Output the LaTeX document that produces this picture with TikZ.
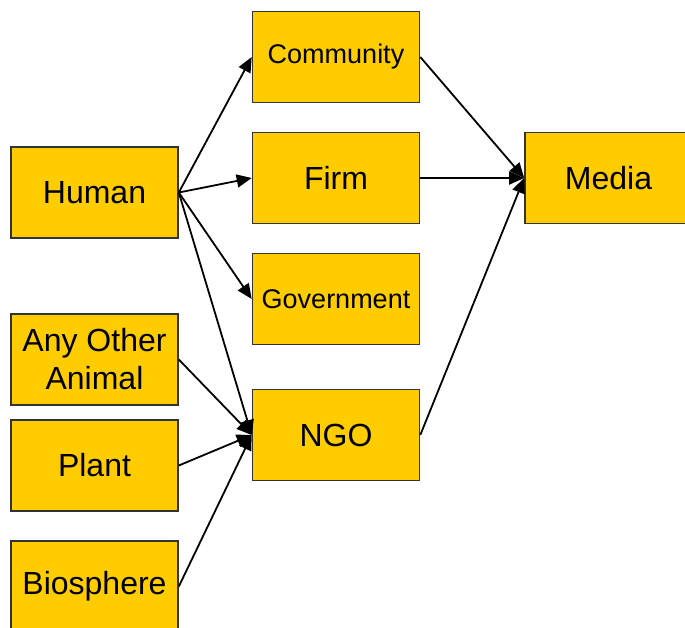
\documentclass[tikz,border=0pt]{standalone}
\usepackage{fontspec}
\setmainfont{Liberation Sans}
\usetikzlibrary{arrows.meta}
\definecolor{boxfill}{HTML}{FFCC00}
\definecolor{boxline}{HTML}{333333}
\tikzset{
  actor/.style={shape=rectangle,draw=boxline,fill=boxfill,line width=1.6pt,
    minimum width=167pt,minimum height=91pt,inner sep=0pt,align=center,
    font=\fontsize{32}{38}\selectfont},
  small/.style={font=\fontsize{27}{32}\selectfont},
  link/.style={-{Triangle[length=15pt,width=13pt]},line width=1.8pt}
}
\begin{document}
\begin{tikzpicture}[x=1pt,y=-1pt]
\useasboundingbox (0,0) rectangle (685,627);
\node (human) at (94.5,192.5) [actor] {Human};
\node (animal) at (94.5,359.5) [actor] {Any Other\\Animal};
\node (plant) at (94.5,465.5) [actor] {Plant};
\node (bio) at (94.5,586.5) [actor] {Biosphere};
\node (community) at (336,57) [actor,small] {Community};
\node (firm) at (336,178) [actor] {Firm};
\node (gov) at (336,299) [actor,small] {Government};
\node (ngo) at (336,435) [actor] {NGO};
\node (media) at (608.5,178) [actor] {Media};
\draw[link] (human.east) -- (community.west);
\draw[link] (human.east) -- (firm.west);
\draw[link] (human.east) -- (gov.west);
\draw[link] (human.east) -- (ngo.west);
\draw[link] (animal.east) -- (ngo.west);
\draw[link] (plant.east) -- (ngo.west);
\draw[link] (bio.east) -- (ngo.west);
\draw[link] (community.east) -- (media.west);
\draw[link] (firm.east) -- (media.west);
\draw[link] (ngo.east) -- (media.west);
\end{tikzpicture}
\end{document}
